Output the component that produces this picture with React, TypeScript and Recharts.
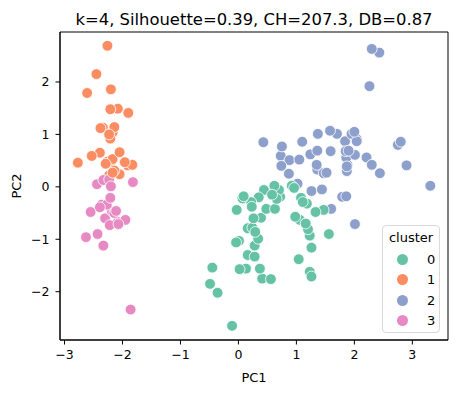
import React from "react";
import {
  ScatterChart,
  Scatter,
  XAxis,
  YAxis,
  Legend,
  ReferenceArea,
} from "recharts";

const FONT = "'DejaVu Sans', sans-serif";

const CLUSTER_NAMES = ["0", "1", "2", "3"];
const CLUSTER_COLORS = ["#66c2a5", "#fc8d62", "#8da0cb", "#e78ac3"];

// PCA coordinates, one entry per sample
const pc1 = [
  -2.26, -2.08, -2.36, -2.3, -2.39, -2.08, -2.44, -2.23, -2.33, -2.18,
  -2.17, -2.33, -2.22, -2.63, -2.2, -2.26, -2.21, -2.19, -1.9, -2.34,
  -1.91, -2.21, -2.77, -1.82, -2.23, -1.95, -2.05, -2.17, -2.14, -2.27,
  -2.14, -1.83, -2.61, -2.45, -2.11, -2.21, -2.05, -2.53, -2.43, -2.17,
  -2.29, -1.86, -2.55, -1.96, -2.14, -2.07, -2.38, -2.39, -2.23, -2.2,
  1.1, 0.73, 1.24, 0.41, 1.08, 0.39, 0.75, -0.49, 0.93, 0.01,
  -0.11, 0.44, 0.56, 0.72, -0.03, 0.88, 0.35, 0.16, 1.23, 0.16,
  0.74, 0.48, 1.23, 0.63, 0.7, 0.87, 1.26, 1.36, 0.66, -0.04,
  0.13, 0.02, 0.24, 1.06, 0.22, 0.43, 1.05, 1.04, 0.07, 0.28,
  0.28, 0.62, 0.34, -0.36, 0.29, 0.09, 0.23, 0.58, -0.45, 0.26,
  1.84, 1.16, 2.21, 1.44, 1.87, 2.75, 0.37, 2.3, 2.01, 2.26,
  1.36, 1.6, 1.88, 1.26, 1.47, 1.59, 1.47, 2.43, 3.31, 1.26,
  2.04, 0.98, 2.9, 1.33, 1.7, 1.95, 1.18, 1.02, 1.79, 1.86,
  2.44, 2.3, 1.86, 1.11, 1.2, 2.8, 1.58, 1.35, 0.92, 1.85,
  2.01, 1.9, 1.16, 2.04, 2.0, 1.87, 1.56, 1.52, 1.37, 0.96,
];

const pc2 = [
  0.48, -0.67, -0.34, -0.6, 0.65, 1.49, 0.05, 0.22, -1.12, -0.47,
  1.04, 0.13, -0.73, -0.96, 1.86, 2.69, 1.48, 0.49, 1.41, 1.13,
  0.41, 0.92, 0.46, 0.09, 0.14, -0.63, 0.24, 0.53, 0.31, -0.34,
  -0.5, 0.42, 1.79, 2.15, -0.46, -0.21, 0.66, 0.59, -0.9, 0.27,
  0.44, -2.34, -0.48, 0.47, 1.14, -0.71, 1.12, -0.39, 1.0, 0.01,
  0.86, 0.59, 0.62, -1.75, -0.21, -0.59, 0.77, -1.85, 0.03, -1.03,
  -2.65, -0.06, -1.76, -0.19, -0.44, 0.51, -0.2, -0.79, -1.62, -1.3,
  0.4, -0.42, -0.93, -0.42, -0.06, 0.25, -0.08, 0.33, -0.23, -1.06,
  -1.56, -1.57, -0.78, -0.63, -0.29, 0.85, 0.52, -1.38, -0.22, -1.33,
  -1.12, 0.02, -0.99, -2.02, -0.86, -0.18, -0.38, -0.15, -1.54, -0.6,
  0.87, -0.7, 0.56, -0.05, 0.3, 0.8, -1.56, 0.42, -0.71, 1.92,
  0.69, -0.42, 0.42, -1.16, -0.44, 0.68, 0.26, 2.56, 0.02, -1.71,
  0.91, -0.57, 0.41, -0.48, 1.01, 1.01, -0.32, 0.06, -0.19, 0.56,
  0.26, 2.63, -0.18, -0.29, -0.81, 0.86, 1.07, 0.42, 0.02, 0.68,
  0.61, 0.69, -0.7, 0.87, 1.05, 0.39, -0.9, 0.27, 1.01, -0.02,
];

const cluster = [
  1, 3, 3, 3, 1, 1, 3, 1, 3, 3,
  1, 3, 3, 3, 1, 1, 1, 1, 1, 1,
  1, 1, 1, 3, 3, 3, 1, 1, 1, 3,
  3, 1, 1, 1, 3, 3, 1, 1, 3, 1,
  1, 3, 3, 1, 1, 3, 1, 3, 1, 3,
  2, 2, 2, 0, 0, 0, 2, 0, 0, 0,
  0, 0, 0, 0, 0, 2, 0, 0, 0, 0,
  2, 0, 0, 0, 0, 2, 2, 2, 0, 0,
  0, 0, 0, 0, 0, 2, 2, 0, 0, 0,
  0, 0, 0, 0, 0, 0, 0, 0, 0, 0,
  2, 0, 2, 2, 2, 2, 0, 2, 2, 2,
  2, 2, 2, 0, 0, 2, 2, 2, 2, 0,
  2, 0, 2, 0, 2, 2, 0, 2, 2, 2,
  2, 2, 2, 0, 0, 2, 2, 2, 0, 2,
  2, 2, 0, 2, 2, 2, 0, 2, 2, 0,
];

const xTicks = [-3, -2, -1, 0, 1, 2, 3];
const yTicks = [-2, -1, 0, 1, 2];
const X_DOMAIN: [number, number] = [-3.078, 3.615];
const Y_DOMAIN: [number, number] = [-2.921, 2.953];

const points = pc1.map((x, i) => ({ x, y: pc2[i], cluster: cluster[i] }));

const fmt = (v: number) => (v < 0 ? `\u2212${Math.abs(v)}` : `${v}`);

// matplotlib-style marker: filled circle with a thin white edge
function Dot(props: any) {
  const { cx, cy, payload } = props;
  if (cx == null || cy == null) return null;
  return (
    <circle
      cx={cx}
      cy={cy}
      r={5.4}
      fill={CLUSTER_COLORS[payload.cluster]}
      stroke="#ffffff"
      strokeWidth={0.8}
    />
  );
}

function ClusterLegend() {
  return (
    <div
      style={{
        boxSizing: "border-box",
        width: 58,
        height: 108,
        border: "1px solid #d9d9d9",
        borderRadius: 4,
        background: "rgba(255,255,255,0.8)",
        fontFamily: FONT,
        fontSize: 13,
        color: "#000",
        position: "relative",
      }}
    >
      <div style={{ position: "absolute", left: 0, right: 0, top: 3, textAlign: "center", lineHeight: "17px" }}>
        cluster
      </div>
      {CLUSTER_NAMES.map((name, i) => (
        <div
          key={name}
          style={{
            position: "absolute",
            left: 0,
            top: 23 + i * 20.5,
            height: 20.5,
            width: "100%",
            display: "flex",
            alignItems: "center",
          }}
        >
          <span
            style={{
              position: "absolute",
              left: 14,
              width: 11,
              height: 11,
              borderRadius: "50%",
              background: CLUSTER_COLORS[i],
            }}
          />
          <span style={{ position: "absolute", left: 44, lineHeight: "17px" }}>{name}</span>
        </div>
      ))}
    </div>
  );
}

export default function App() {
  return (
    <div style={{ position: "absolute", left: 0, top: 0, width: 457, height: 393, background: "#fff" }}>
      <div
        style={{
          position: "absolute",
          left: 60,
          width: 388,
          top: 12,
          textAlign: "center",
          fontFamily: FONT,
          fontSize: 16.4,
          lineHeight: "16px",
          color: "#000",
          whiteSpace: "nowrap",
        }}
      >
        k=4, Silhouette=0.39, CH=207.3, DB=0.87
      </div>
      <ScatterChart
        width={457}
        height={393}
        margin={{ top: 32, right: 9, bottom: 0, left: 0 }}
        style={{ fontFamily: FONT }}
      >
        <XAxis
          dataKey="x"
          type="number"
          domain={X_DOMAIN}
          ticks={xTicks}
          tickFormatter={fmt}
          height={53}
          tickSize={4.5}
          tickMargin={6}
          stroke="#000"
          tick={{ fill: "#000", fontSize: 12.5 }}
          allowDataOverflow
          label={{ value: "PC1", position: "insideBottom", offset: 11, fill: "#000", fontSize: 13 }}
        />
        <YAxis
          dataKey="y"
          type="number"
          domain={Y_DOMAIN}
          ticks={yTicks}
          tickFormatter={fmt}
          width={60}
          tickSize={4.5}
          tickMargin={6}
          stroke="#000"
          tick={{ fill: "#000", fontSize: 12.5 }}
          allowDataOverflow
          label={{
            value: "PC2",
            angle: -90,
            position: "insideLeft",
            offset: 16,
            fill: "#000",
            fontSize: 13,
            style: { textAnchor: "middle" },
          }}
        />
        {/* full frame like matplotlib spines */}
        <ReferenceArea
          x1={X_DOMAIN[0]}
          x2={X_DOMAIN[1]}
          y1={Y_DOMAIN[0]}
          y2={Y_DOMAIN[1]}
          fill="none"
          fillOpacity={0}
          stroke="#000"
          strokeWidth={1}
          strokeOpacity={1}
          ifOverflow="visible"
        />
        <Scatter data={points} shape={Dot} isAnimationActive={false} />
        <Legend
          layout="vertical"
          align="center"
          verticalAlign="middle"
          wrapperStyle={{ left: 382, top: 225, width: 58, height: 108 }}
          content={() => <ClusterLegend />}
        />
      </ScatterChart>
    </div>
  );
}
